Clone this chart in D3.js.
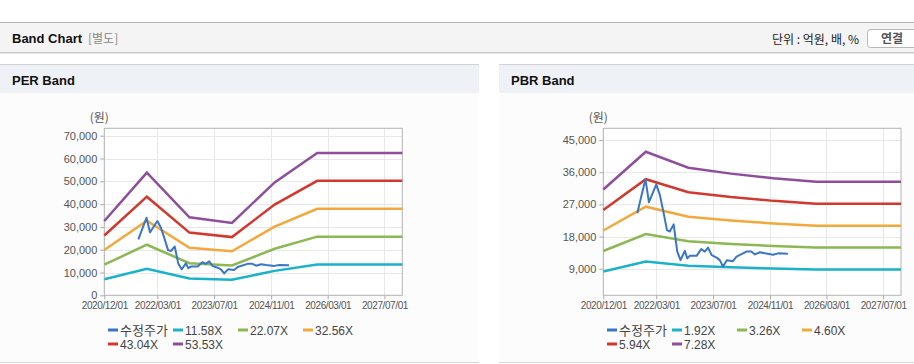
<!DOCTYPE html>
<html>
<head>
<meta charset="utf-8">
<script src="https://cdn.jsdelivr.net/npm/d3@7"></script>
<style>
  body { margin: 0; background: #fff; }
  svg { display: block; font-family: "Liberation Sans", Arial, sans-serif; }
  .kr { font-family: "Noto Sans CJK KR", "Noto Sans", sans-serif; }
</style>
</head>
<body>
<svg id="chart" width="914" height="364"></svg>
<script>
// shared x dates for the band lines
const bandDates = ['2020-12-01', '2021-12-01', '2022-12-01', '2023-12-01', '2024-12-01', '2025-12-01', '2027-12-01'];

// PER band values (원)
const per1158 = [7050, 11640, 7400, 6870, 10710, 13500, 13500];
const per2207 = [13440, 22180, 14100, 13090, 20420, 25730, 25730];
const per3256 = [19830, 32720, 20810, 19310, 30120, 37970, 37970];
const per4304 = [26210, 43260, 27500, 25520, 39810, 50190, 50190];
const per5353 = [32600, 53800, 34210, 31740, 49520, 62420, 62420];

// PBR band values (원)
const pbr192 = [8220, 11000, 9830, 9390, 9040, 8780, 8780];
const pbr326 = [13950, 18680, 16690, 15940, 15360, 14920, 14920];
const pbr460 = [19690, 26360, 23550, 22490, 21670, 21050, 21050];
const pbr594 = [25420, 34040, 30410, 29050, 27980, 27180, 27180];
const pbr728 = [31160, 41710, 37270, 35600, 34290, 33310, 33310];

// adjusted close (수정주가)
const priceDates = ['2021-09-19', '2021-10-25', '2021-11-28', '2021-12-28', '2022-03-01', '2022-04-01',
  '2022-04-28', '2022-06-01', '2022-06-25', '2022-07-28', '2022-08-28', '2022-09-25', '2022-11-01',
  '2022-11-22', '2022-12-13', '2023-02-10', '2023-03-22', '2023-04-22', '2023-05-19', '2023-06-19',
  '2023-08-01', '2023-08-28', '2023-09-25', '2023-10-28', '2023-12-19', '2024-01-19', '2024-04-13',
  '2024-05-25', '2024-06-25', '2024-08-07', '2024-09-19', '2024-11-28', '2025-01-10', '2025-04-04'];
const priceValues = [24500, 29500, 34000, 27600, 32600, 29600, 25400, 19800, 19400, 21400, 13800, 11400,
  14000, 11900, 12600, 12600, 14500, 13800, 14900, 12800, 12100, 11400, 9600, 11400, 11100, 12400,
  13800, 13800, 13000, 13600, 13300, 12900, 13300, 13200];

const xTickDates = ['2020-12-01', '2022-03-01', '2023-07-01', '2024-11-01', '2026-03-01', '2027-07-01'];
const perTicks = [0, 10000, 20000, 30000, 40000, 50000, 60000, 70000];
const pbrTicks = [9000, 18000, 27000, 36000, 45000];

const perLabels = ['수정주가', '11.58X', '22.07X', '32.56X', '43.04X', '53.53X'];
const pbrLabels = ['수정주가', '1.92X', '3.26X', '4.60X', '5.94X', '7.28X'];
const colors = ['#3a76c6', '#1ab2c8', '#8cb853', '#f2a83b', '#d2392e', '#8e4e9b'];

const parse = d3.timeParse('%Y-%m-%d');
const fmt = d3.timeFormat('%Y/%m/%d');

const svg = d3.select('#chart');

// top header bar
svg.append('rect').attr('x', 0).attr('y', 22).attr('width', 914).attr('height', 31).attr('fill', '#f4f4f4');
svg.append('line').attr('x1', 0).attr('x2', 914).attr('y1', 22.5).attr('y2', 22.5).attr('stroke', '#b5b5b5');
svg.append('line').attr('x1', 0).attr('x2', 914).attr('y1', 52.5).attr('y2', 52.5).attr('stroke', '#c8c8c8');
svg.append('line').attr('x1', 0).attr('x2', 914).attr('y1', 53.5).attr('y2', 53.5).attr('stroke', '#e6e6e6');
svg.append('text').attr('x', 12).attr('y', 43).attr('font-size', 13).attr('font-weight', 'bold')
  .attr('fill', '#111').text('Band Chart');
svg.append('text').attr('class', 'kr').attr('x', 88).attr('y', 43).attr('font-size', 12)
  .attr('fill', '#888').text('[별도]');
svg.append('text').attr('class', 'kr').attr('x', 859).attr('y', 44).attr('font-size', 12)
  .attr('text-anchor', 'end').attr('fill', '#222').text('단위 : 억원, 배, %');
svg.append('rect').attr('x', 867.5).attr('y', 29.5).attr('width', 60).attr('height', 18).attr('rx', 3)
  .attr('fill', '#fff').attr('stroke', '#b8b8b8');
svg.append('text').attr('class', 'kr').attr('x', 892).attr('y', 43).attr('font-size', 12)
  .attr('text-anchor', 'middle').attr('font-weight', 'bold').attr('fill', '#555').text('연결');

function drawPanel(px, pw, title) {
  svg.append('rect').attr('x', px).attr('y', 64).attr('width', pw).attr('height', 298).attr('fill', '#fcfcfc');
  svg.append('rect').attr('x', px).attr('y', 64).attr('width', pw).attr('height', 29).attr('fill', '#eef2f7');
  svg.append('line').attr('x1', px).attr('x2', px + pw).attr('y1', 64.5).attr('y2', 64.5).attr('stroke', '#d4d4d4');
  svg.append('line').attr('x1', px).attr('x2', px + pw).attr('y1', 362.5).attr('y2', 362.5).attr('stroke', '#d8d8d8');
  svg.append('text').attr('x', px + 12).attr('y', 85).attr('font-size', 13).attr('font-weight', 'bold')
    .attr('fill', '#111').text(title);
}

function drawChart(cfg) {
  const x = d3.scaleTime().domain([parse('2020-12-01'), parse('2027-12-01')]).range([cfg.x0, cfg.x1]);
  const y = d3.scaleLinear().domain(cfg.yDomain).range([295.3, 128.3]);
  const g = svg.append('g');

  g.append('rect').attr('x', cfg.x0).attr('y', 128.3).attr('width', cfg.x1 - cfg.x0).attr('height', 167)
    .attr('fill', '#fff');

  // grid
  g.selectAll('.hg').data(cfg.yTicks).enter().append('line')
    .attr('x1', cfg.x0).attr('x2', cfg.x1)
    .attr('y1', d => Math.round(y(d)) + 0.5).attr('y2', d => Math.round(y(d)) + 0.5)
    .attr('stroke', '#e8e8e8');
  g.selectAll('.vg').data(xTickDates.map(parse)).enter().append('line')
    .attr('x1', d => Math.round(x(d)) + 0.5).attr('x2', d => Math.round(x(d)) + 0.5)
    .attr('y1', 128.3).attr('y2', 295.3).attr('stroke', '#e8e8e8');

  // axes
  const yAxis = d3.axisLeft(y).tickValues(cfg.yTicks).tickSize(4).tickPadding(3).tickFormat(d3.format(','));
  const ya = g.append('g').attr('transform', `translate(${cfg.x0},0)`).call(yAxis);
  const xAxis = d3.axisBottom(x).tickValues(xTickDates.map(parse)).tickSize(4).tickPadding(3).tickFormat(fmt);
  const xa = g.append('g').attr('transform', 'translate(0,295.3)').call(xAxis);
  [ya, xa].forEach(a => {
    a.select('.domain').remove();
    a.selectAll('line').attr('stroke', '#aaa');
    a.selectAll('text').attr('fill', '#555').attr('font-size', 11)
      .attr('font-family', '"Liberation Sans", Arial, sans-serif');
  });
  xa.selectAll('text').attr('font-size', 10).attr('letter-spacing', '-0.4px');

  g.append('rect').attr('x', cfg.x0).attr('y', 128.3).attr('width', cfg.x1 - cfg.x0).attr('height', 167)
    .attr('fill', 'none').attr('stroke', '#b4b4b4');

  g.append('text').attr('class', 'kr').attr('x', cfg.x0 - 5).attr('y', 122).attr('font-size', 12)
    .attr('text-anchor', 'middle').attr('fill', '#555').text('(원)');

  // band lines
  const line = d3.line().x(d => x(d[0])).y(d => y(d[1]));
  cfg.bands.forEach((vals, i) => {
    const pts = bandDates.map((d, j) => [parse(d), vals[j]]);
    g.append('path').datum(pts).attr('d', line).attr('fill', 'none')
      .attr('stroke', colors[i + 1]).attr('stroke-width', 2.5);
  });
  const pricePts = priceDates.map((d, j) => [parse(d), priceValues[j]]);
  g.append('path').datum(pricePts).attr('d', line).attr('fill', 'none')
    .attr('stroke', colors[0]).attr('stroke-width', 2).attr('stroke-linejoin', 'round');

  // legend
  cfg.labels.forEach((lab, i) => {
    const col = i % 4, row = Math.floor(i / 4);
    const lx = cfg.legendX + col * 65, ly = 330 + row * 14;
    g.append('line').attr('x1', lx).attr('x2', lx + 10).attr('y1', ly).attr('y2', ly)
      .attr('stroke', colors[i]).attr('stroke-width', 3);
    g.append('text').attr('class', i === 0 ? 'kr' : null)
      .attr('x', lx + 12).attr('y', ly + 4.5).attr('font-size', i === 0 ? 13 : 12)
      .attr('fill', '#444').text(lab);
  });
}

drawPanel(0, 479, 'PER Band');
drawPanel(499, 415, 'PBR Band');

drawChart({
  x0: 104.3, x1: 402.3, yDomain: [0, 73250], yTicks: perTicks,
  bands: [per1158, per2207, per3256, per4304, per5353], labels: perLabels, legendX: 108
});
drawChart({
  x0: 603.3, x1: 901, yDomain: [1566, 48280], yTicks: pbrTicks,
  bands: [pbr192, pbr326, pbr460, pbr594, pbr728], labels: pbrLabels, legendX: 607
});
</script>
</body>
</html>
